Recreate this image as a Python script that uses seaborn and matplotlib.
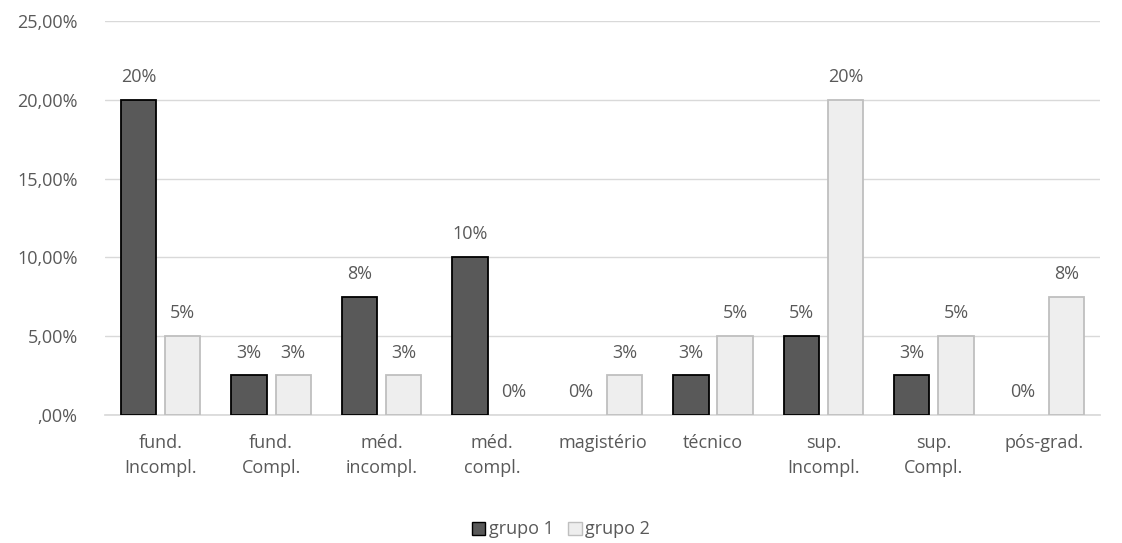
import pandas as pd
import matplotlib.pyplot as plt
import seaborn as sns
from matplotlib.ticker import FuncFormatter
from matplotlib.patches import Patch

#-------Data

categorias = ['fund.\nIncompl.', 'fund.\nCompl.', 'méd.\nincompl.', 'méd.\ncompl.',
              'magistério', 'técnico', 'sup.\nIncompl.', 'sup.\nCompl.', 'pós-grad.']
grupo1 = [20, 2.5, 7.5, 10, 0, 2.5, 5, 2.5, 0]
grupo2 = [5, 2.5, 2.5, 0, 2.5, 5, 20, 5, 7.5]
rotulos1 = ['20%', '3%', '8%', '10%', '0%', '3%', '5%', '3%', '0%']
rotulos2 = ['5%', '3%', '3%', '0%', '3%', '5%', '20%', '5%', '8%']

df = pd.DataFrame({
    'categoria': categorias * 2,
    'valor': grupo1 + grupo2,
    'grupo': ['grupo 1'] * len(categorias) + ['grupo 2'] * len(categorias),
})

#-------Settings

sns.set_theme(style="white")
plt.rcParams['font.family'] = ['Open Sans', 'DejaVu Sans']
cinza = '#595959'
fs = 13

fig = plt.figure(figsize=(11.22, 5.43), dpi=100)
ax = fig.add_axes([0.094, 0.236, 0.886, 0.725])

sns.barplot(data=df, x='categoria', y='valor', hue='grupo', ax=ax,
            palette={'grupo 1': '#595959', 'grupo 2': '#eeeeee'},
            width=0.8, gap=0.2, legend=False, zorder=3)

# bar edges (none on empty bars)
n = len(categorias)
for i, p in enumerate(ax.patches[:2 * n]):
    if p.get_height() == 0:
        p.set_linewidth(0)
        continue
    p.set_edgecolor('black' if i < n else '#bfbfbf')
    p.set_linewidth(1.3)

# labels
for cont, rot in zip(ax.containers, [rotulos1, rotulos2]):
    ax.bar_label(cont, labels=rot, padding=10, color=cinza, fontsize=fs)

ax.set_ylim(0, 25)
ax.set_xlim(-0.5, n - 0.5)
ax.set_yticks([0, 5, 10, 15, 20, 25])
ax.yaxis.set_major_formatter(FuncFormatter(
    lambda v, _: ',00%' if v == 0 else f'{v:.2f}'.replace('.', ',') + '%'))
ax.grid(axis='y', color='#d9d9d9', linewidth=1, zorder=0)
ax.set_axisbelow(True)
for s in ['top', 'right', 'left']:
    ax.spines[s].set_visible(False)
ax.spines['bottom'].set_color('#d9d9d9')
ax.tick_params(axis='x', colors=cinza, labelsize=fs, length=0, pad=14)
ax.tick_params(axis='y', colors=cinza, labelsize=fs, length=0, pad=20)
for t in ax.get_xticklabels():
    t.set_linespacing(1.5)
ax.set_xlabel('')
ax.set_ylabel('')

# legend
handles = [Patch(facecolor='#595959', edgecolor='black', label='grupo 1'),
           Patch(facecolor='#eeeeee', edgecolor='#bfbfbf', label='grupo 2')]
leg = fig.legend(handles=handles, loc='center', bbox_to_anchor=(0.5, 0.025), ncol=2,
                 frameon=False, fontsize=fs, handlelength=0.75, handleheight=0.75,
                 handletextpad=0.2, columnspacing=0.8)
for t in leg.get_texts():
    t.set_color(cinza)

plt.savefig('out.png', dpi=100)
plt.close()
